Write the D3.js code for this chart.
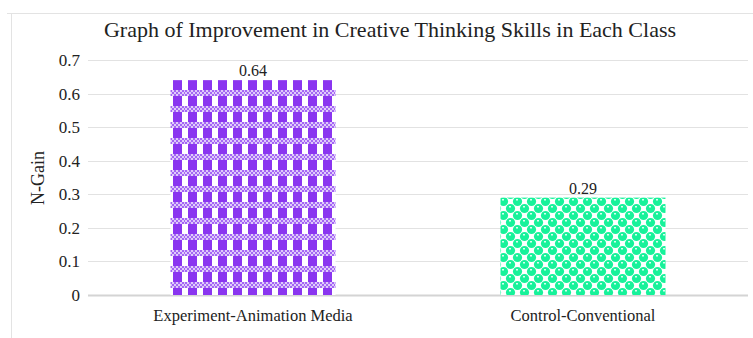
<!DOCTYPE html>
<html>
<head>
<meta charset="utf-8">
<script src="https://cdn.jsdelivr.net/npm/d3@7"></script>
<style>
  body { margin: 0; background: #fff; }
  text { font-family: "Liberation Serif", "Times New Roman", serif; fill: #222; }
</style>
</head>
<body>
<script>
// Data
var categories = ["Experiment-Animation Media", "Control-Conventional"];
var values = [0.64, 0.29];
var yTicks = [0, 0.1, 0.2, 0.3, 0.4, 0.5, 0.6, 0.7];
var title = "Graph of Improvement in Creative Thinking Skills in Each Class";
var yLabel = "N-Gain";

// Settings
var w = 753, h = 338;
var pLeft = 88, pRight = 748, pTop = 60, pBottom = 295;

var svg = d3.select("body").append("svg")
  .attr("width", w)
  .attr("height", h);

// patterns
var defs = svg.append("defs");

var pp = defs.append("pattern")
  .attr("id", "purplePat")
  .attr("patternUnits", "userSpaceOnUse")
  .attr("width", 15).attr("height", 16)
  .attr("x", 170).attr("y", 80);
pp.append("rect").attr("width", 15).attr("height", 16).attr("fill", "#fff");
pp.append("rect").attr("x", 3).attr("y", 0).attr("width", 9).attr("height", 10).attr("fill", "#8a35f0");
for (var i = 0; i < 8; i++) {
  for (var j = 0; j < 3; j++) {
    if ((i + j) % 2 == 0) {
      pp.append("rect")
        .attr("x", i * 2).attr("y", 10 + j * 2)
        .attr("width", 2).attr("height", 2)
        .attr("fill", "#9448f3");
    }
  }
}
pp.append("rect").attr("x", 0).attr("y", 10).attr("width", 15).attr("height", 6)
  .attr("fill", "#b98af7").attr("opacity", 0.45);

var gp = defs.append("pattern")
  .attr("id", "greenPat")
  .attr("patternUnits", "userSpaceOnUse")
  .attr("width", 14).attr("height", 14)
  .attr("x", 500).attr("y", 198);
gp.append("rect").attr("width", 14).attr("height", 14).attr("fill", "#fff");
[[3.5, 3.5], [10.5, 10.5], [10.5, -3.5], [17.5, 3.5], [-3.5, 10.5], [3.5, 17.5]].forEach(function(c) {
  gp.append("circle").attr("cx", c[0]).attr("cy", c[1]).attr("r", 4.6).attr("fill", "#17f29a");
  gp.append("rect").attr("x", c[0] - 1.5).attr("y", c[1] - 2.5).attr("width", 2).attr("height", 1.5).attr("fill", "#d8fff0");
});

// frame (cropped chart area border)
svg.append("line").attr("x1", 7).attr("x2", w).attr("y1", 13.5).attr("y2", 13.5)
  .attr("stroke", "#e3e3e3");
svg.append("line").attr("x1", 11.5).attr("x2", 11.5).attr("y1", 13).attr("y2", h)
  .attr("stroke", "#e3e3e3");

// scales
var xScale = d3.scaleBand()
  .domain(categories)
  .range([pLeft, pRight])
  .paddingInner(0.5)
  .paddingOuter(0.25);

var yScale = d3.scaleLinear()
  .domain([0, 0.7])
  .range([pBottom, pTop]);

// gridlines
svg.append("g")
  .selectAll("line")
  .data(yTicks)
  .enter()
  .append("line")
  .attr("x1", pLeft).attr("x2", pRight)
  .attr("y1", function(d) { return Math.round(yScale(d)) + 0.5; })
  .attr("y2", function(d) { return Math.round(yScale(d)) + 0.5; })
  .attr("stroke", function(d) { return d == 0 ? "#d4d4d4" : "#e2e2e2"; })
  .attr("stroke-width", function(d) { return d == 0 ? 2 : 1; });

// y axis labels
var yAxis = d3.axisLeft(yScale)
  .tickValues(yTicks)
  .tickSize(0)
  .tickPadding(8)
  .tickFormat(function(d) { return d == 0 ? "0" : d3.format(".1f")(d); });

var ya = svg.append("g")
  .attr("transform", "translate(" + pLeft + ",0)")
  .call(yAxis);
ya.select(".domain").remove();
ya.selectAll("text")
  .attr("font-family", "Liberation Serif, serif")
  .attr("font-size", 17)
  .attr("fill", "#333");

// bars
svg.selectAll("rect.bar")
  .data(values)
  .enter()
  .append("rect")
  .attr("class", "bar")
  .attr("x", function(d, i) { return xScale(categories[i]); })
  .attr("y", function(d) { return yScale(d); })
  .attr("width", xScale.bandwidth())
  .attr("height", function(d) { return yScale(0) - yScale(d); })
  .attr("fill", function(d, i) { return i == 0 ? "url(#purplePat)" : "url(#greenPat)"; });

// value labels
svg.selectAll("text.val")
  .data(values)
  .enter()
  .append("text")
  .attr("class", "val")
  .attr("x", function(d, i) { return xScale(categories[i]) + xScale.bandwidth() / 2; })
  .attr("y", function(d) { return yScale(d) - 4; })
  .attr("text-anchor", "middle")
  .attr("font-size", 16)
  .text(function(d) { return d; });

// x axis labels
var xAxis = d3.axisBottom(xScale).tickSize(0).tickPadding(14);
var xa = svg.append("g")
  .attr("transform", "translate(0," + pBottom + ")")
  .call(xAxis);
xa.select(".domain").remove();
xa.selectAll("text")
  .attr("font-family", "Liberation Serif, serif")
  .attr("font-size", 16.5)
  .attr("fill", "#222");

// title
svg.append("text")
  .attr("x", 390)
  .attr("y", 37)
  .attr("text-anchor", "middle")
  .attr("font-size", 22)
  .attr("fill", "#333")
  .text(title);

// y label
svg.append("text")
  .attr("transform", "translate(44,178) rotate(-90)")
  .attr("text-anchor", "middle")
  .attr("font-size", 18)
  .text(yLabel);
</script>
</body>
</html>
